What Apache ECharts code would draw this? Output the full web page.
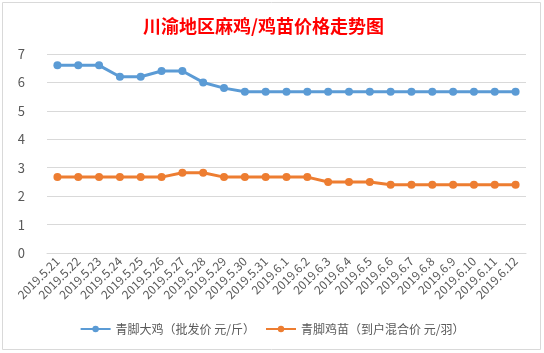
<!DOCTYPE html>
<html>
<head>
<meta charset="utf-8">
<script src="https://cdn.jsdelivr.net/npm/echarts@6/dist/echarts.min.js"></script>
<style>
  html, body { margin: 0; padding: 0; background: #fff; }
  #chart { width: 544px; height: 353px; }
</style>
</head>
<body>
<div id="chart"></div>
<script>
const dates = [
  "2019.5.21", "2019.5.22", "2019.5.23", "2019.5.24", "2019.5.25", "2019.5.26",
  "2019.5.27", "2019.5.28", "2019.5.29", "2019.5.30", "2019.5.31", "2019.6.1",
  "2019.6.2", "2019.6.3", "2019.6.4", "2019.6.5", "2019.6.6", "2019.6.7",
  "2019.6.8", "2019.6.9", "2019.6.10", "2019.6.11", "2019.6.12"
];
const chickenName = "青脚大鸡（批发价 元/斤）";
const chickenPrice = [
  6.6, 6.6, 6.6, 6.2, 6.2, 6.4, 6.4, 6.0, 5.8, 5.67, 5.67, 5.67,
  5.67, 5.67, 5.67, 5.67, 5.67, 5.67, 5.67, 5.67, 5.67, 5.67, 5.67
];
const chickName = "青脚鸡苗（到户混合价 元/羽）";
const chickPrice = [
  2.67, 2.67, 2.67, 2.67, 2.67, 2.67, 2.82, 2.82, 2.67, 2.67, 2.67, 2.67,
  2.67, 2.5, 2.5, 2.5, 2.4, 2.4, 2.4, 2.4, 2.4, 2.4, 2.4
];

const chart = echarts.init(document.getElementById("chart"));
const font = "'Noto Sans CJK SC', sans-serif";

chart.setOption({
  animation: false,
  textStyle: { fontFamily: font },
  title: {
    text: "川渝地区麻鸡/鸡苗价格走势图",
    left: 138,
    top: 12,
    textStyle: { color: "#ff0000", fontSize: 18, fontWeight: "bold", fontFamily: font }
  },
  graphic: [{
    type: "rect",
    shape: { x: 2.5, y: 2.5, width: 538, height: 347 },
    style: { fill: null, stroke: "#d9d9d9", lineWidth: 1 },
    silent: true
  }],
  legend: {
    bottom: 13,
    left: "center",
    itemWidth: 30,
    itemHeight: 8,
    itemGap: 10,
    textStyle: { color: "#595959", fontSize: 12 },
    data: [chickenName, chickName]
  },
  grid: { left: 47, right: 18, top: 54, bottom: 100 },
  xAxis: {
    type: "category",
    boundaryGap: true,
    data: dates,
    axisLine: { lineStyle: { color: "#d9d9d9" } },
    axisTick: { show: false },
    axisLabel: { rotate: 45, interval: 0, color: "#595959", fontSize: 12, margin: 6 }
  },
  yAxis: {
    type: "value",
    min: 0,
    max: 7,
    interval: 1,
    axisLine: { show: false },
    axisTick: { show: false },
    axisLabel: { color: "#595959", fontSize: 13, margin: 22 },
    splitLine: { lineStyle: { color: "#d9d9d9" } }
  },
  series: [
    {
      name: chickenName,
      type: "line",
      data: chickenPrice,
      symbol: "circle",
      symbolSize: 8,
      lineStyle: { color: "#5b9bd5", width: 3 },
      itemStyle: { color: "#5b9bd5" }
    },
    {
      name: chickName,
      type: "line",
      data: chickPrice,
      symbol: "circle",
      symbolSize: 8,
      lineStyle: { color: "#ed7d31", width: 3 },
      itemStyle: { color: "#ed7d31" }
    }
  ]
});
</script>
</body>
</html>
